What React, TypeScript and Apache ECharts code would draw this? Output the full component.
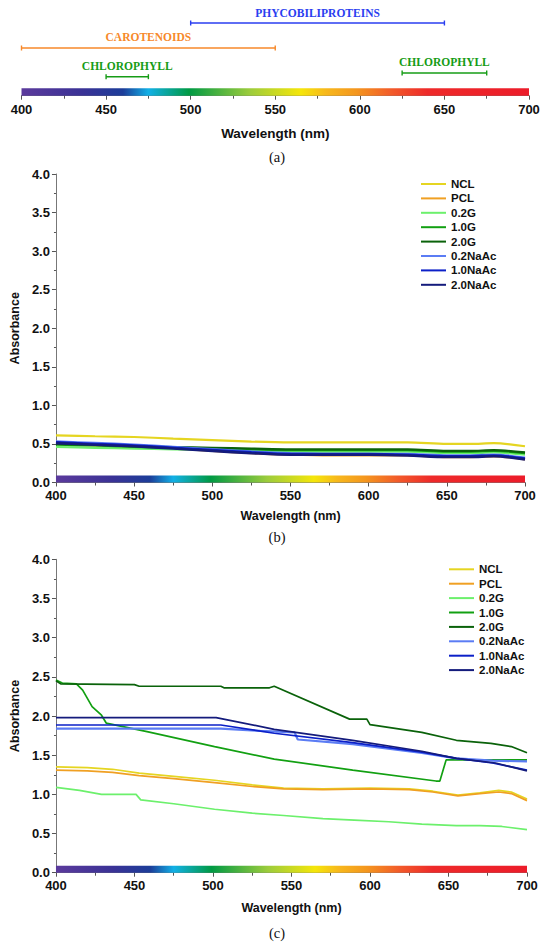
import React, { useEffect, useRef } from "react";
import * as echarts from "echarts";

// ---------- data ----------
const SERIES_NAMES = ["NCL", "PCL", "0.2G", "1.0G", "2.0G", "0.2NaAc", "1.0NaAc", "2.0NaAc"];

// panel (a): absorption ranges of pigments (nm)
const RANGE_NAMES = ["PHYCOBILIPROTEINS", "CAROTENOIDS", "CHLOROPHYLL", "CHLOROPHYLL"];
const RANGE_START = [500, 400, 450, 625];
const RANGE_END = [650, 550, 475, 675];

// panel (b): wavelengths and absorbance
const WL_B = [400, 425, 450, 475, 500, 525, 550, 575, 600, 625, 650, 665, 680, 700];
const B_NCL = [0.61, 0.6, 0.59, 0.57, 0.55, 0.53, 0.52, 0.52, 0.52, 0.52, 0.5, 0.5, 0.51, 0.47];
const B_PCL = [0.5, 0.48, 0.46, 0.44, 0.41, 0.38, 0.36, 0.35, 0.35, 0.35, 0.33, 0.33, 0.34, 0.3];
const B_02G = [0.46, 0.45, 0.44, 0.43, 0.42, 0.41, 0.4, 0.4, 0.4, 0.4, 0.38, 0.38, 0.39, 0.36];
const B_10G = [0.49, 0.48, 0.46, 0.45, 0.44, 0.43, 0.42, 0.42, 0.42, 0.42, 0.4, 0.4, 0.41, 0.38];
const B_20G = [0.5, 0.49, 0.47, 0.46, 0.45, 0.44, 0.43, 0.43, 0.43, 0.43, 0.41, 0.41, 0.42, 0.39];
const B_02NA = [0.53, 0.51, 0.49, 0.46, 0.43, 0.4, 0.38, 0.37, 0.37, 0.37, 0.35, 0.35, 0.36, 0.32];
const B_10NA = [0.52, 0.5, 0.48, 0.45, 0.42, 0.39, 0.37, 0.37, 0.37, 0.36, 0.34, 0.34, 0.35, 0.31];
const B_20NA = [0.51, 0.49, 0.47, 0.44, 0.41, 0.38, 0.36, 0.36, 0.36, 0.35, 0.33, 0.33, 0.34, 0.3];

// panel (c): [wavelength, absorbance]
const C_NCL = [[400, 1.35], [420, 1.34], [436, 1.32], [453, 1.27], [475, 1.23], [501, 1.18], [525, 1.12], [545, 1.08], [570, 1.07], [600, 1.08], [625, 1.07], [640, 1.04], [656, 0.99], [670, 1.02], [682, 1.05], [690, 1.03], [700, 0.94]];
const C_PCL = [[400, 1.31], [420, 1.3], [436, 1.28], [453, 1.24], [475, 1.2], [501, 1.15], [525, 1.1], [545, 1.07], [570, 1.06], [600, 1.07], [625, 1.06], [640, 1.03], [656, 0.98], [670, 1.01], [682, 1.03], [690, 1.01], [700, 0.92]];
const C_02G = [[400, 1.09], [415, 1.05], [429, 1.0], [451, 1.0], [454, 0.93], [475, 0.88], [501, 0.81], [525, 0.76], [545, 0.73], [570, 0.69], [590, 0.67], [612, 0.65], [633, 0.62], [655, 0.6], [670, 0.6], [684, 0.59], [700, 0.55]];
const C_10G = [[400, 2.46], [404, 2.42], [413, 2.41], [417, 2.33], [423, 2.12], [429, 2.01], [432, 1.91], [458, 1.8], [501, 1.61], [539, 1.45], [589, 1.31], [642, 1.17], [644.5, 1.17], [648.5, 1.44], [700, 1.44]];
const C_20G = [[400, 2.45], [403, 2.41], [450, 2.4], [453, 2.38], [505, 2.38], [507, 2.36], [536, 2.36], [539, 2.38], [587, 1.96], [598, 1.96], [600, 1.89], [633, 1.79], [655, 1.69], [677, 1.65], [690, 1.61], [700, 1.53]];
const C_02NA = [[400, 1.84], [505, 1.84], [530, 1.81], [552, 1.79], [554, 1.7], [589, 1.64], [633, 1.53], [655, 1.46], [678, 1.43], [700, 1.42]];
const C_10NA = [[400, 1.885], [505, 1.885], [539, 1.78], [589, 1.66], [633, 1.54], [655, 1.46], [678, 1.4], [700, 1.31]];
const C_20NA = [[400, 1.98], [502, 1.98], [539, 1.83], [589, 1.69], [633, 1.55], [655, 1.46], [680, 1.4], [700, 1.3]];

// ---------- styles ----------
const COLORS = ["#e5d521", "#f0a023", "#6cf06c", "#12a012", "#0a620a", "#5b7cf4", "#0c20c8", "#141b7c"];
const RANGE_COLORS = ["#2a3ef0", "#f7892a", "#169c16", "#169c16"];
const RANGE_ROW = [0.8015, 0.526, 0.2095, 0.2503];
const SANS = "'Liberation Sans', Arial, sans-serif";
const SERIF = "'Liberation Serif', 'Times New Roman', serif";

const SPECTRUM_STOPS = [
  { offset: 0, color: "#5b3a9c" },
  { offset: 0.12, color: "#3a3296" },
  { offset: 0.2, color: "#1c3d99" },
  { offset: 0.25, color: "#12b0e6" },
  { offset: 0.33, color: "#009a44" },
  { offset: 0.45, color: "#9ccc3c" },
  { offset: 0.55, color: "#f5e60a" },
  { offset: 0.6, color: "#f7b81c" },
  { offset: 0.66, color: "#f4961e" },
  { offset: 0.73, color: "#f25a2a" },
  { offset: 0.8, color: "#ee2a2a" },
  { offset: 1, color: "#ec1c2a" },
];

function spectrumSeries(gi: number, top: number) {
  return {
    type: "custom",
    xAxisIndex: gi,
    yAxisIndex: gi,
    silent: true,
    clip: false,
    z: 1,
    encode: { x: [0, 1], y: 2 },
    data: [[400, 700, top]],
    renderItem: (params: any, api: any) => {
      const p0 = api.coord([api.value(0), api.value(2)]);
      const p1 = api.coord([api.value(1), 0]);
      return {
        type: "rect",
        shape: { x: p0[0], y: p0[1], width: p1[0] - p0[0], height: p1[1] - p0[1] },
        style: { fill: new echarts.graphic.LinearGradient(0, 0, 1, 0, SPECTRUM_STOPS) },
      };
    },
  };
}

function xAxisCfg(gi: number, fs: number, margin: number, nameGap: number, nameFs: number) {
  return {
    type: "value",
    gridIndex: gi,
    min: 400,
    max: 700,
    interval: 50,
    name: "Wavelength (nm)",
    nameLocation: "middle",
    nameGap,
    nameTextStyle: { fontFamily: SANS, fontWeight: "bold", fontSize: nameFs, color: "#111" },
    axisLine: { show: true, onZero: false, lineStyle: { color: "#777", width: 1 } },
    axisTick: { show: true, length: 4, lineStyle: { color: "#555" } },
    minorTick: { show: true, splitNumber: 2, length: 3, lineStyle: { color: "#555" } },
    splitLine: { show: false },
    axisLabel: { fontFamily: SANS, fontWeight: "bold", fontSize: fs, color: "#111", margin },
  };
}

function yAxisCfg(gi: number) {
  return {
    type: "value",
    gridIndex: gi,
    min: 0,
    max: 4,
    interval: 0.5,
    name: "Absorbance",
    nameLocation: "middle",
    nameGap: 27,
    nameTextStyle: { fontFamily: SANS, fontWeight: "bold", fontSize: 12.5, color: "#111" },
    axisLine: { show: true, lineStyle: { color: "#777", width: 1 } },
    axisTick: { show: true, length: 4, lineStyle: { color: "#555" } },
    minorTick: { show: true, splitNumber: 2, length: 2, lineStyle: { color: "#555" } },
    splitLine: { show: false },
    axisLabel: {
      fontFamily: SANS,
      fontWeight: "bold",
      fontSize: 13,
      color: "#111",
      margin: 6,
      formatter: (v: number) => v.toFixed(1),
    },
  };
}

function legendCfg(left: number, top: number) {
  return {
    data: SERIES_NAMES,
    orient: "vertical",
    left,
    top,
    padding: 0,
    icon: "rect",
    itemWidth: 25,
    itemHeight: 2,
    itemGap: 0.4,
    selectedMode: false,
    textStyle: { fontFamily: SANS, fontWeight: "bold", fontSize: 11.5, color: "#111", lineHeight: 14 },
  };
}

export default function App() {
  const ref = useRef<HTMLDivElement>(null);
  useEffect(() => {
    if (!ref.current) return;
    const chart = echarts.init(ref.current, undefined, { renderer: "svg" });

    const bData = [B_NCL, B_PCL, B_02G, B_10G, B_20G, B_02NA, B_10NA, B_20NA];
    const cData = [C_NCL, C_PCL, C_02G, C_10G, C_20G, C_02NA, C_10NA, C_20NA];

    const bSeries = SERIES_NAMES.map((name, i) => ({
      type: "line",
      name,
      xAxisIndex: 1,
      yAxisIndex: 1,
      symbol: "none",
      smooth: 0.3,
      z: 3,
      color: COLORS[i],
      lineStyle: { color: COLORS[i], width: i >= 5 ? 2.6 : 2.2 },
      data: WL_B.map((w, k) => [w, bData[i][k]]),
    }));

    const cSeries = SERIES_NAMES.map((name, i) => ({
      type: "line",
      name,
      xAxisIndex: 2,
      yAxisIndex: 2,
      symbol: "none",
      smooth: false,
      z: 3,
      color: COLORS[i],
      lineStyle: { color: COLORS[i], width: i === 5 ? 2.2 : 1.7 },
      data: cData[i],
    }));

    const rangeSeries = {
      type: "custom",
      xAxisIndex: 0,
      yAxisIndex: 0,
      silent: true,
      clip: false,
      z: 4,
      encode: { x: [0, 1], y: 2 },
      data: RANGE_NAMES.map((n, i) => ({ name: n, value: [RANGE_START[i], RANGE_END[i], RANGE_ROW[i]] })),
      renderItem: (params: any, api: any) => {
        const i = params.dataIndex;
        const p0 = api.coord([api.value(0), api.value(2)]);
        const p1 = api.coord([api.value(1), api.value(2)]);
        const c = RANGE_COLORS[i];
        return {
          type: "group",
          children: [
            { type: "line", shape: { x1: p0[0], y1: p0[1], x2: p1[0], y2: p1[1] }, style: { stroke: c, lineWidth: 1.6 } },
            { type: "line", shape: { x1: p0[0], y1: p0[1] - 2.5, x2: p0[0], y2: p0[1] + 2.5 }, style: { stroke: c, lineWidth: 1.4 } },
            { type: "line", shape: { x1: p1[0], y1: p1[1] - 2.5, x2: p1[0], y2: p1[1] + 2.5 }, style: { stroke: c, lineWidth: 1.4 } },
            {
              type: "text",
              x: (p0[0] + p1[0]) / 2,
              y: p0[1] - 10.5,
              style: {
                text: RANGE_NAMES[i],
                fill: c,
                fontFamily: SERIF,
                fontWeight: "bold",
                fontSize: 11.5,
                align: "center",
                verticalAlign: "middle",
              },
            },
          ],
        };
      },
    };

    const captionStyle = { fontFamily: SERIF, fontSize: 14.5, fill: "#111", align: "center", verticalAlign: "middle" };

    chart.setOption({
      animation: false,
      backgroundColor: "#fff",
      grid: [
        { left: 21.5, right: 21, top: 5, height: 90.7 },
        { left: 51, right: 25, top: 174, height: 308.5 },
        { left: 48.5, right: 23, top: 559.3, height: 313.4 },
      ],
      xAxis: [
        xAxisCfg(0, 13, 7, 30.5, 13.5),
        xAxisCfg(1, 13, 6, 27, 12.5),
        xAxisCfg(2, 13, 6, 28.5, 12.5),
      ],
      yAxis: [
        { type: "value", gridIndex: 0, min: 0, max: 1, show: false },
        yAxisCfg(1),
        yAxisCfg(2),
      ],
      legend: [legendCfg(421, 177), legendCfg(449, 562.3)],
      graphic: [
        { type: "text", x: 277, y: 157, style: { ...captionStyle, text: "(a)" } },
        { type: "text", x: 277, y: 537, style: { ...captionStyle, text: "(b)" } },
        { type: "text", x: 277, y: 933, style: { ...captionStyle, text: "(c)" } },
      ],
      series: [
        spectrumSeries(0, 0.082),
        rangeSeries,
        spectrumSeries(1, 0.09),
        ...bSeries,
        spectrumSeries(2, 0.09),
        ...cSeries,
      ],
    });
    return () => chart.dispose();
  }, []);
  return (
    <div
      ref={ref}
      style={{ position: "absolute", left: 0, top: 0, width: 550, height: 950, background: "#fff" }}
    />
  );
}
